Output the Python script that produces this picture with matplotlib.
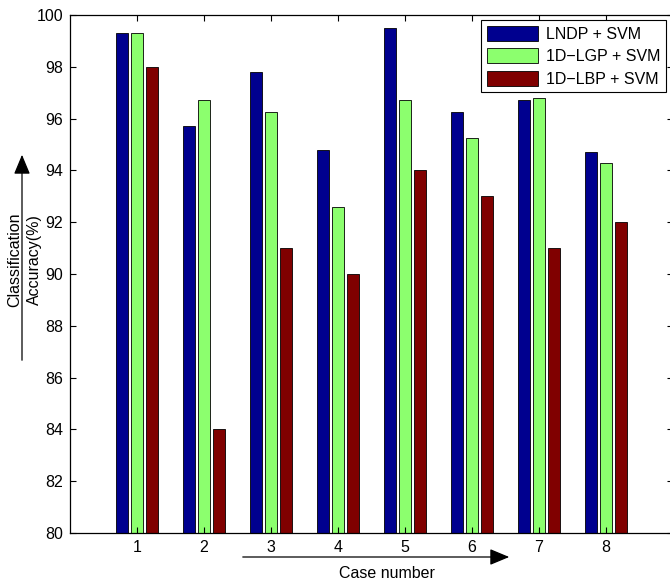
import matplotlib
matplotlib.use("Agg")
import matplotlib.pyplot as plt
import numpy as np

plt.rcParams['font.family'] = ['Liberation Sans', 'DejaVu Sans']

# data
cases = [1, 2, 3, 4, 5, 6, 7, 8]
lndp = [99.3, 95.7, 97.8, 94.8, 99.5, 96.25, 96.7, 94.7]
lgp = [99.3, 96.7, 96.25, 92.6, 96.7, 95.25, 96.8, 94.3]
lbp = [98.0, 84.0, 91.0, 90.0, 94.0, 93.0, 91.0, 92.0]
series_names = ["LNDP + SVM", "1D\u2212LGP + SVM", "1D\u2212LBP + SVM"]
colors = ["#00008F", "#8CFF6E", "#800000"]

fs = 11.5

fig = plt.figure(figsize=(6.70, 5.83), dpi=100)
# axes box: x 70..673 px, y 15..533 px (right edge falls just outside the image)
ax = fig.add_axes([70 / 670, 50 / 583, 603 / 670, 518 / 583])

x = np.array(cases)
step = 0.222
w = 0.18
for i, (vals, name, c) in enumerate(zip([lndp, lgp, lbp], series_names, colors)):
    ax.bar(x + (i - 1) * step, vals, width=w, color=c, edgecolor="black",
           linewidth=0.6, label=name)

ax.set_xlim(0, 9)
ax.set_ylim(80, 100)
ax.set_xticks(cases)
ax.set_yticks(np.arange(80, 101, 2))
ax.tick_params(direction="in", length=4, width=0.8, labelsize=fs,
               top=True, right=True, pad=5)
for s in ax.spines.values():
    s.set_linewidth(0.9)

leg = ax.legend(loc="upper left", bbox_to_anchor=(481 / 670, 1 - 20 / 583),
                bbox_transform=fig.transFigure, fontsize=fs, frameon=True,
                fancybox=False, edgecolor="black", framealpha=1,
                handlelength=3.2, handleheight=1.1, borderpad=0.35,
                labelspacing=0.4, handletextpad=0.5, borderaxespad=0)
leg.get_frame().set_linewidth(0.8)

# y label with arrow
fig.text(15 / 670, 1 - 260 / 583, "Classification", rotation=90,
         ha="center", va="center", fontsize=fs)
fig.text(34 / 670, 1 - 260 / 583, "Accuracy(%)", rotation=90,
         ha="center", va="center", fontsize=fs)
arrow_style = "-|>,head_length=6,head_width=2.5"
fig.add_artist(matplotlib.patches.FancyArrowPatch(
    (22 / 670, 1 - 363 / 583), (22 / 670, 1 - 152 / 583),
    transform=fig.transFigure, arrowstyle=arrow_style,
    color="black", linewidth=0.9, mutation_scale=2))

# x label with arrow
fig.text(387 / 670, 1 - 573 / 583, "Case number", ha="center", va="center",
         fontsize=fs)
fig.add_artist(matplotlib.patches.FancyArrowPatch(
    (240 / 670, 1 - 557 / 583), (512 / 670, 1 - 557 / 583),
    transform=fig.transFigure, arrowstyle=arrow_style,
    color="black", linewidth=0.9, mutation_scale=2))

fig.savefig("out.png", dpi=100)
